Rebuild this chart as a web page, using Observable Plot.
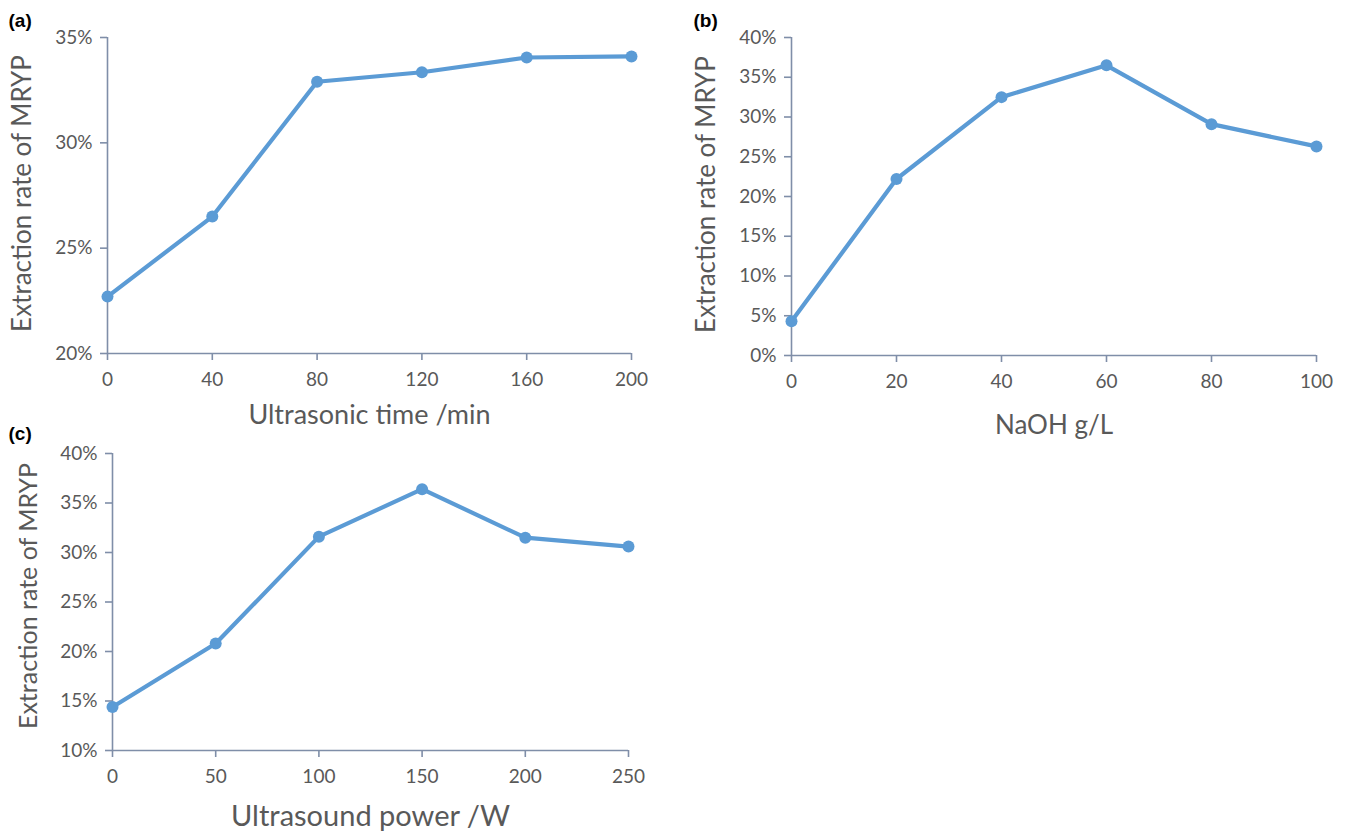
<!DOCTYPE html>
<html>
<head>
<meta charset="utf-8">
<script src="https://cdn.jsdelivr.net/npm/d3@7"></script>
<script src="https://cdn.jsdelivr.net/npm/@observablehq/plot@0.6"></script>
<style>
  html, body { margin: 0; padding: 0; background: #ffffff; }
  #wrap { position: relative; width: 1348px; height: 836px; overflow: hidden; background: #ffffff; }
  .panel { position: absolute; }
  .panel svg { overflow: visible; }
</style>
</head>
<body>
<div id="wrap"></div>
<script>
// ---- data ----
const timeMin = [0, 40, 80, 120, 160, 200];
const rateA = [22.7, 26.5, 32.9, 33.35, 34.05, 34.1];
const timeTicks = [0, 40, 80, 120, 160, 200];
const rateATicks = [20, 25, 30, 35];

const naohGL = [0, 20, 40, 60, 80, 100];
const rateB = [4.3, 22.2, 32.5, 36.5, 29.1, 26.3];
const naohTicks = [0, 20, 40, 60, 80, 100];
const rateBTicks = [0, 5, 10, 15, 20, 25, 30, 35, 40];

const powerW = [0, 50, 100, 150, 200, 250];
const rateC = [14.4, 20.8, 31.6, 36.4, 31.5, 30.6];
const powerTicks = [0, 50, 100, 150, 200, 250];
const rateCTicks = [10, 15, 20, 25, 30, 35, 40];

const yTitle = "Extraction rate of MRYP";
const xTitleA = "Ultrasonic time /min";
const xTitleB = "NaOH g/L";
const xTitleC = "Ultrasound power /W";
const panelLabels = ["(a)", "(b)", "(c)"];

// ---- styling ----
const lineColor = "#5b9bd5";
const axisColor = "#7f8ea8";
const textColor = "#595959";
const font = "Lato, 'Open Sans', sans-serif";

function panel(cfg) {
  const data = cfg.xs.map((x, i) => ({x, y: cfg.ys[i]}));
  const plot = Plot.plot({
    width: cfg.width,
    height: cfg.height,
    marginLeft: cfg.ml,
    marginRight: cfg.mr,
    marginTop: cfg.mt,
    marginBottom: cfg.mb,
    style: {background: "transparent", fontFamily: font, overflow: "visible"},
    x: {domain: cfg.xDomain, axis: null},
    y: {domain: cfg.yDomain, axis: null},
    marks: [
      Plot.ruleX([cfg.xDomain[0]], {stroke: axisColor, strokeWidth: 1.6}),
      Plot.ruleY([cfg.yDomain[0]], {stroke: axisColor, strokeWidth: 1.6}),
      Plot.axisY({ticks: cfg.yTicks, tickSize: 7, tickPadding: 8, tickFormat: d => d + "%",
        stroke: axisColor, strokeWidth: 1.6, fill: textColor, fontSize: 19, label: null}),
      Plot.axisX({ticks: cfg.xTicks, tickSize: 7, tickPadding: 12, tickFormat: d => String(d),
        stroke: axisColor, strokeWidth: 1.6, fill: textColor, fontSize: 19, label: null}),
      Plot.line(data, {x: "x", y: "y", stroke: lineColor, strokeWidth: 4.2}),
      Plot.dot(data, {x: "x", y: "y", r: 6, fill: lineColor}),
      Plot.text([yTitle], {frameAnchor: "left", dx: cfg.yTitleDx, dy: cfg.yTitleDy, rotate: -90, fontSize: cfg.yTitleSize,
        textAnchor: "middle", lineAnchor: "middle", fill: textColor, text: d => d}),
      Plot.text([cfg.xTitle], {frameAnchor: "bottom", dy: cfg.xTitleDy, fontSize: cfg.xTitleSize,
        textAnchor: "middle", fill: textColor, lineAnchor: "middle", text: d => d}),
      Plot.text([cfg.label], {frameAnchor: "top-left", dx: cfg.labDx, dy: cfg.labDy, textAnchor: "start",
        lineAnchor: "middle", fontSize: 19, fontWeight: "bold", fontFamily: "Arial, 'Liberation Sans', sans-serif",
        fill: "#000", text: d => d})
    ]
  });
  const div = document.createElement("div");
  div.className = "panel";
  div.style.left = cfg.left + "px";
  div.style.top = cfg.top + "px";
  div.style.width = cfg.width + "px";
  div.appendChild(plot);
  document.getElementById("wrap").appendChild(div);
}

panel({left: 0, top: 0, width: 680, height: 443, ml: 107, mr: 49, mt: 37, mb: 90,
  xs: timeMin, ys: rateA, xDomain: [0, 200], yDomain: [20, 35], xTicks: timeTicks, yTicks: rateATicks,
  xTitle: xTitleA, xTitleDy: 62, xTitleSize: 27, yTitleDx: -85, yTitleDy: -2, yTitleSize: 26,
  label: panelLabels[0], labDx: -99, labDy: -17});

panel({left: 680, top: 0, width: 668, height: 445, ml: 111, mr: 32, mt: 37, mb: 90,
  xs: naohGL, ys: rateB, xDomain: [0, 100], yDomain: [0, 40], xTicks: naohTicks, yTicks: rateBTicks,
  xTitle: xTitleB, xTitleDy: 70, xTitleSize: 26, yTitleDx: -85, yTitleDy: -2, yTitleSize: 26,
  label: panelLabels[1], labDx: -98, labDy: -17});

panel({left: 0, top: 420, width: 680, height: 416, ml: 112, mr: 52, mt: 33, mb: 86,
  xs: powerW, ys: rateC, xDomain: [0, 250], yDomain: [10, 40], xTicks: powerTicks, yTicks: rateCTicks,
  xTitle: xTitleC, xTitleDy: 66, xTitleSize: 29, yTitleDx: -84, yTitleDy: -6, yTitleSize: 25,
  label: panelLabels[2], labDx: -104, labDy: -20});
</script>
</body>
</html>
